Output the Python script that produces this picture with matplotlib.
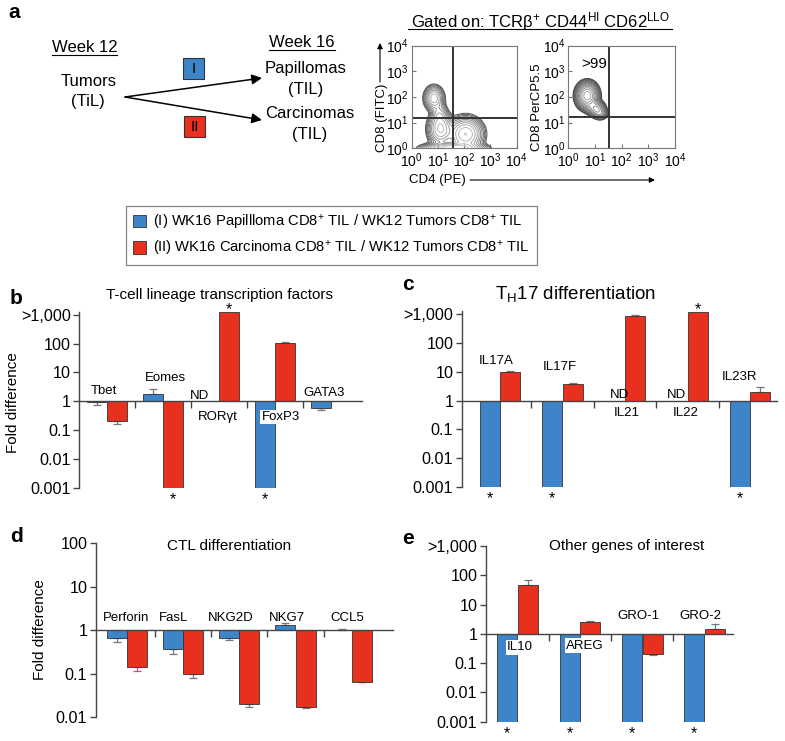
import numpy as np
import matplotlib
matplotlib.use('Agg')
import matplotlib.pyplot as plt
from matplotlib.patches import Rectangle, Patch

plt.rcParams['font.family'] = ['Liberation Sans', 'DejaVu Sans']
plt.rcParams['mathtext.fontset'] = 'custom'
plt.rcParams['mathtext.rm'] = 'Liberation Sans'
plt.rcParams['mathtext.it'] = 'Liberation Sans:italic'
plt.rcParams['mathtext.bf'] = 'Liberation Sans:bold'

BLUE = '#3d85c8'
RED = '#e8301f'
EDGE = '#333333'
AXC = '#444444'

# ---- panel b : T-cell lineage transcription factors
b_genes = ['Tbet', 'Eomes', 'RORγt', 'FoxP3', 'GATA3']
b_blue = [0.92, 1.8, np.nan, 0.001, 0.6]
b_blue_err = [0.73, 2.6, np.nan, np.nan, 0.5]
b_red = [0.2, 0.001, 1250, 105, np.nan]
b_red_err = [0.16, np.nan, np.nan, 115, np.nan]
b_star_blue = [0, 0, 0, 1, 0]
b_star_red = [0, 1, 1, 0, 0]

# ---- panel c : TH17 differentiation
c_genes = ['IL17A', 'IL17F', 'IL21', 'IL22', 'IL23R']
c_blue = [0.001, 0.001, np.nan, np.nan, 0.001]
c_blue_err = [np.nan, np.nan, np.nan, np.nan, np.nan]
c_red = [9.4, 3.7, 850, 1150, 2.05]
c_red_err = [10.5, 4.0, 950, np.nan, 3.0]
c_star_blue = [1, 1, 0, 0, 1]
c_star_red = [0, 0, 0, 1, 0]

# ---- panel d : CTL differentiation
d_genes = ['Perforin', 'FasL', 'NKG2D', 'NKG7', 'CCL5']
d_blue = [0.65, 0.37, 0.68, 1.33, 1.04]
d_blue_err = [0.55, 0.28, 0.6, 1.45, 1.07]
d_red = [0.14, 0.1, 0.02, 0.0175, 0.065]
d_red_err = [0.115, 0.08, 0.017, 0.016, 0.064]
d_star_blue = [0, 0, 0, 0, 0]
d_star_red = [0, 0, 0, 0, 0]

# ---- panel e : other genes of interest
e_genes = ['IL10', 'AREG', 'GRO-1', 'GRO-2']
e_blue = [0.001, 0.001, 0.001, 0.001]
e_blue_err = [np.nan, np.nan, np.nan, np.nan]
e_red = [48, 2.5, 0.2, 1.45]
e_red_err = [70, 2.8, 0.185, 2.1]
e_star_blue = [1, 1, 1, 1]
e_star_red = [0, 0, 0, 0]

# ---- flow cytometry density blobs (log10 units): cx, cy, sx, sy, weight
left_cx = [0.85, 1.05, 1.1, 2.05, 1.6]
left_cy = [1.95, 1.3, 0.75, 0.55, 0.0]
left_sx = [0.17, 0.15, 0.22, 0.3, 0.5]
left_sy = [0.22, 0.25, 0.3, 0.3, 0.1]
left_w = [0.5, 0.2, 0.6, 0.8, 1.2]

right_cx = [0.72, 1.05, 1.2]
right_cy = [2.05, 1.55, 1.35]
right_sx = [0.19, 0.16, 0.13]
right_sy = [0.24, 0.14, 0.11]
right_w = [1.0, 0.45, 0.25]

left_gate = (36, 15)
right_gate = (34, 16)

W, H = 785, 741
fig = plt.figure(figsize=(W / 100, H / 100), dpi=100)

# pixel-space overlay axes for free text / arrows
ax0 = fig.add_axes([0, 0, 1, 1], zorder=-1)
ax0.set_xlim(0, W)
ax0.set_ylim(H, 0)
ax0.axis('off')

GENE_FS = 9.5


def px_axes(x0, x1, y0, y1):
    return fig.add_axes([x0 / W, 1 - y1 / H, (x1 - x0) / W, (y1 - y0) / H])


def bar_panel(ax, blue, blue_err, red, red_err, star_blue, star_red,
              width, off, ylim, yticks, yticklabels, seps, xlim):
    n = len(blue)
    x = np.arange(n)
    for vals, errs, stars, sign, col in [(blue, blue_err, star_blue, -1, BLUE),
                                         (red, red_err, star_red, 1, RED)]:
        vals = np.array(vals, float)
        errs = np.array(errs, float)
        xs = x + sign * off
        ok = ~np.isnan(vals)
        ax.bar(xs[ok], vals[ok] - 1, bottom=1, width=width, color=col,
               edgecolor=EDGE, linewidth=0.6, zorder=2)
        for xi, v, e in zip(xs, vals, errs):
            if np.isnan(v) or np.isnan(e):
                continue
            if v >= 1:
                yerr = [[0], [e - v]]
            else:
                yerr = [[v - e], [0]]
            ax.errorbar([xi], [v], yerr=yerr, fmt='none', ecolor='#777777',
                        elinewidth=0.9, capsize=3, capthick=0.9, zorder=1)
        for xi, v, s in zip(xs, vals, stars):
            if not s:
                continue
            if v >= 1:
                ax.annotate('*', xy=(xi, min(v, ylim[1])), xytext=(0, -2),
                            textcoords='offset pixels', ha='center', va='baseline',
                            fontsize=11.5, annotation_clip=False)
            else:
                ax.annotate('*', xy=(xi, max(v, ylim[0])), xytext=(0, -16),
                            textcoords='offset pixels', ha='center', va='baseline',
                            fontsize=11.5, annotation_clip=False)
    ax.set_yscale('log')
    ax.set_ylim(*ylim)
    ax.set_xlim(*xlim)
    ax.set_yticks(yticks)
    ax.set_yticklabels(yticklabels, fontsize=11.6)
    ax.yaxis.set_minor_locator(matplotlib.ticker.NullLocator())
    ax.set_xticks(seps)
    ax.set_xticklabels([])
    ax.tick_params(axis='x', direction='out', length=5, color=AXC, width=1)
    ax.tick_params(axis='y', direction='out', length=4, color=AXC, width=1, pad=2)
    ax.spines['bottom'].set_position(('data', 1))
    for s in ['top', 'right']:
        ax.spines[s].set_visible(False)
    for s in ['left', 'bottom']:
        ax.spines[s].set_color(AXC)
        ax.spines[s].set_linewidth(1)
    ax.patch.set_alpha(0)


def glabel(ax, x, y, s, white=False):
    kw = {}
    if white:
        kw = dict(bbox=dict(facecolor='white', edgecolor='none', pad=1), zorder=3)
    ax.text(x, y, s, ha='center', va='center', fontsize=GENE_FS, **kw)


big_ticks = [1e-3, 1e-2, 1e-1, 1, 10, 100, 1000]
big_labels = ['0.001', '0.01', '0.1', '1', '10', '100', '>1,000']

# panel b
axb = px_axes(79, 361.7, 311.6, 487.7)
bar_panel(axb, b_blue, b_blue_err, b_red, b_red_err, b_star_blue, b_star_red,
          0.35, 0.18, (0.001, 1300), big_ticks, big_labels,
          [0.5, 1.5, 2.5, 3.5], (-0.5, 4.55))
glabel(axb, -0.05, 2.28, 'Tbet')
glabel(axb, 1.05, 6.3, 'Eomes')
glabel(axb, 1.66, 1.49, 'ND')
glabel(axb, 1.98, 0.285, 'RORγt', white=True)
glabel(axb, 3.1, 0.285, 'FoxP3', white=True)
glabel(axb, 3.88, 1.9, 'GATA3')

# panel c
axc = px_axes(461.7, 776.7, 310.6, 487.3)
bar_panel(axc, c_blue, c_blue_err, c_red, c_red_err, c_star_blue, c_star_red,
          0.32, 0.165, (0.001, 1300), big_ticks, big_labels,
          [0.5, 1.5, 2.5, 3.5], (-0.613, 4.43))
glabel(axc, -0.064, 22.9, 'IL17A')
glabel(axc, 0.96, 15, 'IL17F')
glabel(axc, 1.92, 1.57, 'ND')
glabel(axc, 2.03, 0.367, 'IL21')
glabel(axc, 2.83, 1.57, 'ND')
glabel(axc, 2.98, 0.367, 'IL22')
glabel(axc, 3.84, 6.6, 'IL23R')

# panel d
axd = px_axes(95.7, 393, 543.3, 717.3)
bar_panel(axd, d_blue, d_blue_err, d_red, d_red_err, d_star_blue, d_star_red,
          0.355, 0.18, (0.01, 100), [0.01, 0.1, 1, 10, 100],
          ['0.01', '0.1', '1', '10', '100'], [0.5, 1.5, 2.5, 3.5], (-0.55, 4.73))
for xi, g in zip([-0.01, 0.84, 1.85, 2.84, 3.91], d_genes):
    glabel(axd, xi, 1.89, g)

# panel e
axe = px_axes(485.7, 733.3, 546, 721.7)
bar_panel(axe, e_blue, e_blue_err, e_red, e_red_err, e_star_blue, e_star_red,
          0.32, 0.165, (0.001, 1000), big_ticks, big_labels,
          [0.5, 1.5, 2.5], (-0.51, 3.46))
glabel(axe, 0.04, 0.343, 'IL10', white=True)
glabel(axe, 1.08, 0.39, 'AREG', white=True)
glabel(axe, 1.94, 3.93, 'GRO-1')
glabel(axe, 2.93, 3.93, 'GRO-2')

# titles / letters / y labels
ax0.text(8, 13, 'a', fontsize=15, fontweight='bold', va='center')
ax0.text(10, 298, 'b', fontsize=15, fontweight='bold', va='center')
ax0.text(401.7, 285, 'c', fontsize=15, fontweight='bold', va='center')
ax0.text(10, 536, 'd', fontsize=15, fontweight='bold', va='center')
ax0.text(401.7, 538, 'e', fontsize=15, fontweight='bold', va='center')
ax0.text(220, 295, 'T-cell lineage transcription factors', ha='center', va='center', fontsize=11)
ax0.text(576, 294, r'T$_\mathregular{H}$17 differentiation', ha='center', va='center', fontsize=13.5)
ax0.text(229, 546, 'CTL differentiation', ha='center', va='center', fontsize=11)
ax0.text(626.7, 546, 'Other genes of interest', ha='center', va='center', fontsize=11)
ax0.text(13, 403, 'Fold difference', rotation=90, ha='center', va='center', fontsize=11)
ax0.text(40, 630, 'Fold difference', rotation=90, ha='center', va='center', fontsize=11)

# ---- panel a schematic
ax0.text(84.5, 47.7, 'Week 12', ha='center', va='center', fontsize=12)
ax0.plot([51.7, 117.3], [54.5, 54.5], color='k', lw=0.8)
ax0.text(89, 81.7, 'Tumors', ha='center', va='center', fontsize=12)
ax0.text(88.3, 101.7, '(TiL)', ha='center', va='center', fontsize=12)
ax0.text(302, 42.3, 'Week 16', ha='center', va='center', fontsize=12)
ax0.plot([269, 335], [50, 50], color='k', lw=0.8)
ax0.text(306, 68.3, 'Papillomas', ha='center', va='center', fontsize=12)
ax0.text(306, 89.3, '(TIL)', ha='center', va='center', fontsize=12)
ax0.text(309.5, 113.3, 'Carcinomas', ha='center', va='center', fontsize=12)
ax0.text(309.5, 134, '(TIL)', ha='center', va='center', fontsize=12)
for yend in [78, 120]:
    ax0.annotate('', xy=(262, yend), xytext=(125, 97),
                 arrowprops=dict(arrowstyle='-|>', color='k', lw=1.1,
                                 mutation_scale=15, shrinkA=0, shrinkB=0))
ax0.add_patch(Rectangle((183, 58), 21, 21, facecolor=BLUE, edgecolor=EDGE, lw=0.8))
ax0.text(193.5, 68.8, 'I', ha='center', va='center', fontsize=11)
ax0.add_patch(Rectangle((184, 116), 21, 21, facecolor=RED, edgecolor=EDGE, lw=0.8))
ax0.text(194.5, 126.8, 'II', ha='center', va='center', fontsize=11)

# ---- flow plots
ax0.text(540, 21.7, r'Gated on: TCRβ$^{+}$ CD44$^{\mathregular{HI}}$ CD62$^{\mathregular{LLO}}$',
         ha='center', va='center', fontsize=12)
ax0.plot([408.3, 671.7], [29, 29], color='k', lw=0.8)

g = np.linspace(-0.3, 4.3, 300)
GX, GY = np.meshgrid(g, g)


def density(cx, cy, sx, sy, w):
    z = np.zeros_like(GX)
    for a, b, c, d, e in zip(cx, cy, sx, sy, w):
        z += e * np.exp(-((GX - a) ** 2 / (2 * c ** 2) + (GY - b) ** 2 / (2 * d ** 2)))
    return z


def flow_axes(ax, z, gate, nlev, lo, hi, c0, c1):
    levels = np.logspace(lo, hi, nlev) * z.max()
    cols = plt.cm.Greys(np.linspace(c0, c1, nlev))
    ax.contour(10 ** GX, 10 ** GY, z, levels=levels, colors=cols, linewidths=0.7)
    ax.set_xscale('log')
    ax.set_yscale('log')
    ax.set_xlim(1, 1e4)
    ax.set_ylim(1, 1e4)
    ticks = [1, 10, 100, 1000, 10000]
    labs = [r'$10^{%d}$' % i for i in range(5)]
    ax.set_xticks(ticks)
    ax.set_xticklabels(labs, fontsize=10)
    ax.set_yticks(ticks)
    ax.set_yticklabels(labs, fontsize=10)
    ax.tick_params(which='major', direction='in', length=3, color='#777777', pad=2)
    ax.tick_params(which='minor', direction='in', length=1.5, color='#999999')
    ax.axvline(gate[0], color='#333333', lw=1.4)
    ax.axhline(gate[1], color='#333333', lw=1.4)
    for s in ax.spines.values():
        s.set_color('#777777')


axf1 = px_axes(411.7, 516.7, 45.7, 148.3)
flow_axes(axf1, density(left_cx, left_cy, left_sx, left_sy, left_w), left_gate,
          11, -1.8, -0.2, 0.75, 0.35)
axf2 = px_axes(568, 675, 45.7, 148.3)
flow_axes(axf2, density(right_cx, right_cy, right_sx, right_sy, right_w), right_gate,
          13, -1.7, -0.1, 0.8, 0.45)
axf2.text(0.12, 0.82, '>99', transform=axf2.transAxes, fontsize=11, va='center')

ax0.text(382, 118, 'CD8 (FITC)', rotation=90, ha='center', va='center', fontsize=9.5)
ax0.annotate('', xy=(380, 43), xytext=(380, 82),
             arrowprops=dict(arrowstyle='-|>', color='k', lw=0.8, mutation_scale=8,
                             shrinkA=0, shrinkB=0))
ax0.text(537, 107.5, 'CD8 PerCP5.5', rotation=90, ha='center', va='center', fontsize=9.5)
ax0.text(437, 180, 'CD4 (PE)', ha='center', va='center', fontsize=9.5)
ax0.annotate('', xy=(655, 180), xytext=(470, 180),
             arrowprops=dict(arrowstyle='-|>', color='k', lw=0.8, mutation_scale=8,
                             shrinkA=0, shrinkB=0))

# ---- legend
handles = [Patch(facecolor=BLUE, edgecolor=EDGE, lw=0.6),
           Patch(facecolor=RED, edgecolor=EDGE, lw=0.6)]
labels = [r'(I) WK16 Papillloma CD8$^{+}$ TIL / WK12 Tumors CD8$^{+}$ TIL',
          r'(II) WK16 Carcinoma CD8$^{+}$ TIL / WK12 Tumors CD8$^{+}$ TIL']
leg = fig.legend(handles, labels, loc='upper left',
                 bbox_to_anchor=(126 / W, 1 - 206 / H), fontsize=10.6,
                 frameon=True, fancybox=False, edgecolor='#666666',
                 handlelength=0.9, handleheight=0.9, handletextpad=0.5,
                 borderpad=0.45, labelspacing=0.5, borderaxespad=0)
leg.get_frame().set_linewidth(0.9)

fig.savefig('out.png', dpi=100)
